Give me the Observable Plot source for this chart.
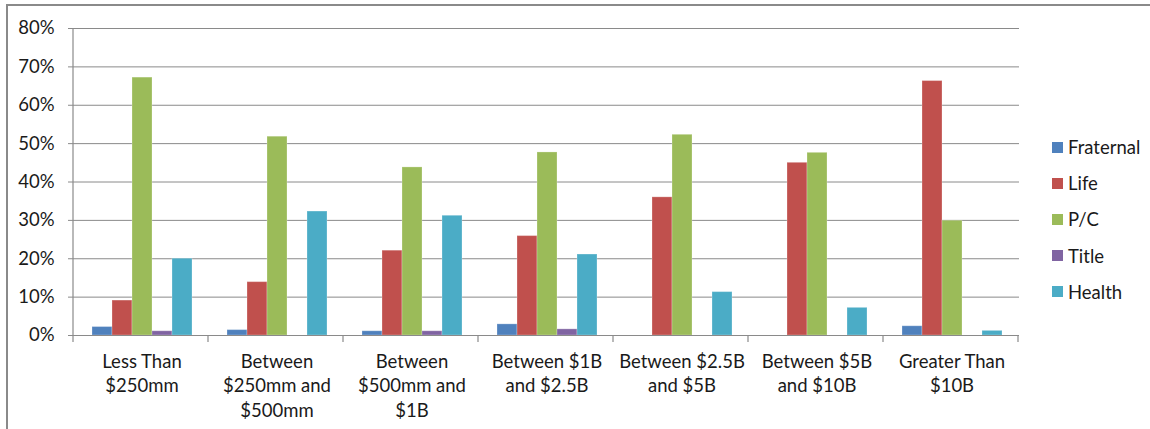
<!DOCTYPE html>
<html>
<head>
<meta charset="utf-8">
<script src="https://cdn.jsdelivr.net/npm/d3@7"></script>
<script src="https://cdn.jsdelivr.net/npm/@observablehq/plot@0.6"></script>
<style>
  html, body { margin: 0; padding: 0; background: #fff; }
  #wrap { position: relative; width: 1150px; height: 429px; overflow: hidden; font-family: Lato, "Open Sans", sans-serif; }
  #border { position: absolute; left: 6px; top: 4px; width: 1200px; height: 500px; border-left: 2px solid #8a8a8a; border-top: 2px solid #8a8a8a; }
  #chart { position: absolute; left: 0; top: 0; }
  #legend { position: absolute; left: 1052px; top: 129px; }
  .item { display: flex; align-items: center; height: 36.2px; font-size: 18.5px; color: #1a1a1a; }
  .sw { width: 11px; height: 11px; margin-right: 5px; }
</style>
</head>
<body>
<div id="wrap"><div id="border"></div><div id="chart"></div><div id="legend"></div></div>
<script>
const categories = ["Less Than\n$250mm", "Between\n$250mm and\n$500mm", "Between\n$500mm and\n$1B", "Between $1B\nand $2.5B", "Between $2.5B\nand $5B", "Between $5B\nand $10B", "Greater Than\n$10B"];
const seriesNames = ["Fraternal", "Life", "P/C", "Title", "Health"];
const colors = ["#4F81BD", "#C0504D", "#9BBB59", "#8064A2", "#4BACC6"];
const fraternal = [0.022, 0.014, 0.011, 0.029, 0, 0, 0.024];
const life      = [0.091, 0.139, 0.221, 0.259, 0.360, 0.450, 0.663];
const pc        = [0.672, 0.518, 0.438, 0.477, 0.523, 0.476, 0.299];
const title     = [0.011, 0, 0.011, 0.016, 0, 0, 0];
const health    = [0.200, 0.323, 0.312, 0.211, 0.113, 0.072, 0.012];
const yTicks = [0, 0.1, 0.2, 0.3, 0.4, 0.5, 0.6, 0.7, 0.8];

const seriesValues = [fraternal, life, pc, title, health];
const rows = [];
categories.forEach((c, i) => seriesNames.forEach((s, j) => rows.push({cat: c, series: s, value: seriesValues[j][i]})));
const firstRows = rows.filter(d => d.series === seriesNames[0]);

const FS = 18.5;
const chart = Plot.plot({
  width: 1150,
  height: 429,
  marginLeft: 73,
  marginRight: 130,
  marginTop: 28,
  marginBottom: 94,
  style: {fontFamily: "Lato, 'Open Sans', sans-serif", fontSize: FS + "px", color: "#1a1a1a", background: "transparent"},
  fx: {domain: categories, padding: 0, axis: null},
  x: {domain: seriesNames, paddingInner: 0, paddingOuter: 0.77, axis: null},
  y: {domain: [0, 0.8], axis: null},
  color: {domain: seriesNames, range: colors},
  marks: [
    Plot.ruleY(yTicks.slice(1), {stroke: "#8a8a8a", strokeWidth: 1}),
    Plot.barY(rows, {fx: "cat", x: "series", y: "value", fill: "series", stroke: "#ffffff", strokeOpacity: 0.25, strokeWidth: 1}),
    Plot.ruleY([0], {stroke: "#8a8a8a", strokeWidth: 1.2}),
    Plot.text(firstRows, {fx: "cat", text: "cat", frameAnchor: "bottom", lineAnchor: "top", dy: 15, lineHeight: 24.5 / FS, fontSize: FS, fill: "#1a1a1a"}),
    Plot.axisY({ticks: yTicks, tickFormat: d3.format(".0%"), tickSize: 6, tickPadding: 14, stroke: "#8a8a8a", fill: "#1a1a1a", fontSize: FS, anchor: "left", label: null})
  ]
});
document.getElementById("chart").appendChild(chart);

// axis line and category boundary ticks, positioned from the plot's own scales
const fxS = chart.scale("fx");
const yS = chart.scale("y");
const y0 = yS.apply(0), yTop = yS.apply(0.8);
const svg = d3.select(chart);
const g = svg.append("g").attr("stroke", "#8a8a8a").attr("stroke-width", 1.2);
const left = fxS.range[0];
g.append("line").attr("x1", left).attr("x2", left).attr("y1", yTop).attr("y2", y0 + 7);
for (let i = 1; i <= categories.length; i++) {
  const x = left + i * fxS.step;
  g.append("line").attr("x1", x).attr("x2", x).attr("y1", y0).attr("y2", y0 + 7);
}

const legend = document.getElementById("legend");
seriesNames.forEach((s, i) => {
  const it = document.createElement("div");
  it.className = "item";
  const sw = document.createElement("div");
  sw.className = "sw";
  sw.style.background = colors[i];
  it.appendChild(sw);
  it.appendChild(document.createTextNode(s));
  legend.appendChild(it);
});
</script>
</body>
</html>
